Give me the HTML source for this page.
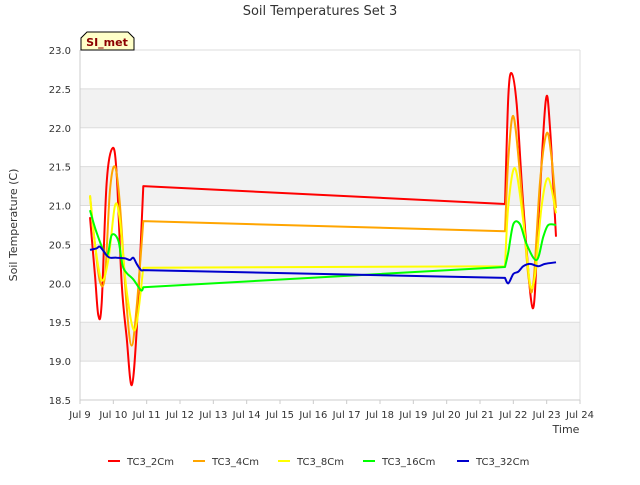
<!DOCTYPE html>
<html><head><meta charset="utf-8"><style>
body{margin:0;background:#fff;font-family:"Liberation Sans","DejaVu Sans",sans-serif;}
svg text{font-family:"DejaVu Sans","Liberation Sans",sans-serif;}
</style></head><body>
<svg id="chart" width="640" height="480">
<text x="320" y="15" text-anchor="middle" font-size="13" fill="#333">Soil Temperatures Set 3</text>
<g id="bands"></g><g id="grid"></g><g id="axes"></g><g id="series"></g>
<text transform="translate(17,225) rotate(-90)" text-anchor="middle" font-size="11" fill="#333">Soil Temperature (C)</text>
<text x="566" y="433" text-anchor="middle" font-size="11" fill="#333">Time</text>
<g>
<path d="M81,50 L81,38 L87,32 L128,32 L134,38 L134,50 Z" fill="#ffffc8" stroke="#000" stroke-width="1"/>
<text x="107" y="46" text-anchor="middle" font-size="11" font-weight="bold" fill="#8b0000">SI_met</text></g>
<g id="legend"></g>
</svg>
<script>
const yTicks=[18.5,19.0,19.5,20.0,20.5,21.0,21.5,22.0,22.5,23.0];
const xTicks=["Jul 9","Jul 10","Jul 11","Jul 12","Jul 13","Jul 14","Jul 15","Jul 16","Jul 17","Jul 18","Jul 19","Jul 20","Jul 21","Jul 22","Jul 23","Jul 24"];
const seriesNames=["TC3_2Cm","TC3_4Cm","TC3_8Cm","TC3_16Cm","TC3_32Cm"];
const seriesColors=["#ff0000","#ffa500","#ffff00","#00ff00","#0000cc"];
const t2=[0.3,0.45,0.55,0.65,0.8,0.98,1.1,1.25,1.4,1.55,1.7,1.9,12.75,12.85,12.95,13.1,13.3,13.58,13.75,13.97,14.1,14.28];
const v2=[20.85,20.1,19.59,19.75,21.3,21.74,21.4,20.0,19.3,18.69,19.4,21.25,21.02,22.4,22.7,22.3,21.0,19.68,20.8,22.34,22.0,20.6];
const t4=[0.3,0.45,0.6,0.75,0.9,1.05,1.2,1.4,1.55,1.7,1.9,12.75,12.85,13.0,13.2,13.45,13.6,13.8,14.0,14.15,14.28];
const v4=[21.13,20.5,20.02,20.1,21.2,21.5,21.0,19.7,19.2,19.7,20.8,20.67,21.6,22.15,21.4,20.1,20.0,21.3,21.93,21.6,20.97];
const t8=[0.3,0.45,0.65,0.85,1.05,1.2,1.4,1.65,1.9,12.75,12.85,13.05,13.3,13.5,13.65,13.85,14.05,14.28];
const v8=[21.13,20.5,20.04,20.3,21.0,20.8,19.9,19.4,20.2,20.22,21.0,21.48,20.8,20.0,20.1,21.0,21.35,20.9];
const t16=[0.3,0.5,0.8,0.95,1.15,1.3,1.6,1.83,1.9,12.75,12.85,13.0,13.2,13.4,13.7,13.9,14.05,14.28];
const v16=[20.94,20.65,20.36,20.62,20.55,20.2,20.05,19.91,19.95,20.21,20.4,20.76,20.76,20.5,20.3,20.6,20.75,20.75];
const t32=[0.3,0.5,0.6,0.8,0.9,1.1,1.35,1.5,1.6,1.7,1.83,1.9,12.75,12.85,13.0,13.15,13.3,13.5,13.75,13.95,14.28];
const v32=[20.43,20.45,20.47,20.36,20.33,20.33,20.32,20.3,20.33,20.25,20.17,20.17,20.07,20.0,20.12,20.15,20.22,20.25,20.22,20.25,20.27];
const tSets=[t2,t4,t8,t16,t32], vSets=[v2,v4,v8,v16,v32];
const NS="http://www.w3.org/2000/svg";
const X0=80,X1=580,Y0=50,Y1=400;
function xs(t){return X0+t*(X1-X0)/15;}
function ys(v){return Y0+(23-v)*(Y1-Y0)/4.5;}
function mk(tag,attrs,parent){const e=document.createElementNS(NS,tag);for(const k in attrs)e.setAttribute(k,attrs[k]);parent.appendChild(e);return e;}
function smoothPath(P,T){
  let d='M'+P[0][0].toFixed(1)+','+P[0][1].toFixed(1);
  for(let i=0;i<P.length-1;i++){
    if(T[i+1]-T[i]>2){d+=' L'+P[i+1][0].toFixed(1)+','+P[i+1][1].toFixed(1);continue;}
    const p0=(i>0&&T[i]-T[i-1]<=2)?P[i-1]:P[i], p1=P[i], p2=P[i+1], p3=(i+2<P.length&&T[i+2]-T[i+1]<=2)?P[i+2]:P[i+1];
    const c1=[p1[0]+(p2[0]-p0[0])/6,p1[1]+(p2[1]-p0[1])/6], c2=[p2[0]-(p3[0]-p1[0])/6,p2[1]-(p3[1]-p1[1])/6];
    d+=' C'+c1[0].toFixed(1)+','+c1[1].toFixed(1)+' '+c2[0].toFixed(1)+','+c2[1].toFixed(1)+' '+p2[0].toFixed(1)+','+p2[1].toFixed(1);
  }
  return d;
}
const bands=document.getElementById('bands'),grid=document.getElementById('grid'),axes=document.getElementById('axes'),ser=document.getElementById('series'),leg=document.getElementById('legend');
mk('rect',{x:X0,y:Y0,width:X1-X0,height:Y1-Y0,fill:'#fff'},bands);
for(let i=0;i<yTicks.length-1;i++){
  if(i%2===1){const r=mk('rect',{x:X0,y:ys(yTicks[i+1]),width:X1-X0,height:ys(yTicks[i])-ys(yTicks[i+1]),fill:'#f2f2f2'},bands);
  
  }
}
yTicks.forEach(v=>{
  const l=mk('line',{x1:X0,x2:X1,y1:ys(v),y2:ys(v),stroke:'#dcdcdc','stroke-width':1},grid);
  
  
  const tx=mk('text',{x:X0-9,y:ys(v)+4,'text-anchor':'end','font-size':10,fill:'#333'},axes);tx.textContent=v.toFixed(1);
  
  
});
mk('line',{x1:X1,x2:X1,y1:Y0,y2:Y1,stroke:'#dcdcdc'},grid);
mk('line',{x1:X0,x2:X0,y1:Y0,y2:Y1,stroke:'#ccc'},axes);
mk('line',{x1:X0,x2:X1,y1:Y1,y2:Y1,stroke:'#ccc'},axes);
xTicks.forEach((s,i)=>{
  mk('line',{x1:xs(i),x2:xs(i),y1:Y1,y2:Y1+4,stroke:'#ccc'},axes);
  const tx=mk('text',{x:xs(i),y:Y1+18,'text-anchor':'middle','font-size':10,fill:'#333'},axes);tx.textContent=s;
  
  
});
seriesNames.forEach((n,k)=>{
  const P=tSets[k].map((t,i)=>[xs(t),ys(vSets[k][i])]);
  const p=mk('path',{d:smoothPath(P,tSets[k]),fill:'none',stroke:seriesColors[k],'stroke-width':2,'stroke-linejoin':'round'},ser);
  
  
});
const lx=[108,193,278,363,457];
seriesNames.forEach((n,k)=>{
  const g=mk('g',{},leg);
  
  
  mk('line',{x1:lx[k],x2:lx[k]+12,y1:461,y2:461,stroke:seriesColors[k],'stroke-width':2},g);
  const t=mk('text',{x:lx[k]+19,y:465,'font-size':10,fill:'#333'},g);t.textContent=n;
});
</script>
</body></html>
